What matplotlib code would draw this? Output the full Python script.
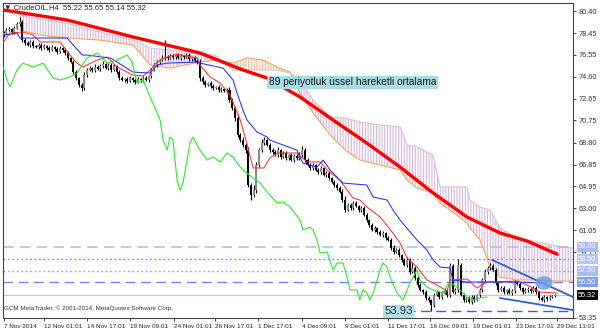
import matplotlib
matplotlib.use('Agg')
import matplotlib.pyplot as plt
from matplotlib.patches import Ellipse
import matplotlib.transforms as mtransforms

# ---------------- data ----------------
first_open = 78.30
closes = [
    78.46, 78.72, 78.81, 78.55, 78.90, 79.25, 79.43,
    77.84, 77.58, 77.40, 77.67, 77.31,
    77.23, 77.40, 77.14, 77.31,
    77.14, 76.96, 77.23, 77.05, 76.78, 77.14, 76.96, 76.70,
    76.26, 75.90, 75.02, 74.49, 73.87, 73.61,
    74.76, 75.20, 75.37, 75.20, 75.46, 75.29, 75.55,
    75.73, 75.37, 75.64, 75.20, 75.55, 75.02,
    74.49, 74.32, 74.40, 74.23, 74.49, 74.32, 74.14, 74.40, 74.32, 74.49, 74.32, 74.67,
    75.20, 75.64, 75.90, 76.08, 76.26, 76.34,
    76.26, 76.43, 76.34, 76.52, 76.26, 76.43, 76.34, 76.52, 76.17, 76.26, 75.99, 75.90,
    74.49, 74.14, 73.87, 74.05, 73.79, 73.61, 73.70, 73.43, 73.52, 73.35, 73.43,
    72.55, 71.85, 70.96, 69.47, 69.02, 68.58, 68.14,
    65.06, 64.17, 64.62,
    66.82, 68.14, 68.76, 69.02, 68.58, 68.14,
    67.97, 67.70, 68.14, 67.53, 67.88, 67.44, 67.70, 67.26, 67.61, 67.44, 67.70,
    68.14, 67.26, 66.82,
    66.56, 66.82, 66.38, 66.20, 66.56, 65.94, 66.11,
    65.67, 65.32, 65.06, 64.79, 64.44,
    63.73, 62.85, 63.29, 63.03,
    63.47, 63.20, 62.85, 63.03,
    62.41, 61.97, 61.53, 61.09, 61.27,
    60.91, 60.65, 60.82, 60.38, 60.21,
    59.50, 59.15, 59.32, 58.88, 58.44,
    58.00, 58.44, 57.38, 57.74, 56.86, 56.24,
    55.80, 55.62, 55.09, 54.91, 54.48,
    55.35, 55.62, 55.18, 55.53, 55.80, 55.35, 57.90, 55.62, 55.80, 58.00,
    55.35, 54.91, 55.09, 54.74, 55.18, 54.91, 55.35,
    55.80, 56.68, 57.38, 57.74, 57.91,
    57.56, 56.42, 55.80, 55.97,
    55.62, 55.80, 55.53, 55.71, 56.42, 56.33,
    55.97, 55.62, 55.80, 55.89, 55.71, 55.97,
    55.62, 55.09, 54.91, 55.18,
    55.00, 55.18, 55.27, 55.32,
]
wick_up = [
    0.20, 0.15, 0.20, 0.10, 0.20, 0.20, 0.45, 0.20, 0.15, 0.20,
    0.15, 0.20, 0.10, 0.15, 0.20, 0.15, 0.10, 0.20, 0.15, 0.10,
    0.20, 0.15, 0.10, 0.20, 0.15, 0.10, 0.20, 0.15, 0.10, 0.20,
    0.30, 0.15, 0.20, 0.10, 0.25, 0.15, 0.20, 0.30, 0.10, 0.20,
    0.15, 0.20, 0.10, 0.20, 0.15, 0.10, 0.20, 0.15, 0.10, 0.20,
    0.15, 0.10, 0.20, 0.15, 0.10, 0.20, 0.15, 0.20, 0.10, 0.30,
    1.50, 0.20, 0.15, 0.20, 0.10, 0.20, 0.15, 0.10, 0.20, 0.15,
    0.10, 0.20, 0.15, 0.30, 0.20, 0.15, 0.10, 0.20, 0.15, 0.10,
    0.20, 0.15, 0.10, 0.20, 0.30, 0.20, 0.15, 0.40, 0.20, 0.30,
    0.20, 0.30, 0.20, 0.40, 0.30, 0.20, 0.40, 0.30, 0.20, 0.15,
    0.20, 0.15, 0.30, 0.10, 0.20, 0.15, 0.10, 0.20, 0.15, 0.20,
    0.30, 0.40, 0.20, 0.15, 0.20, 0.15, 0.10, 0.20, 0.15, 0.10,
    0.20, 0.15, 0.10, 0.20, 0.15, 0.20, 0.30, 0.40, 0.20, 0.15,
    0.20, 0.15, 0.10, 0.20, 0.15, 0.20, 0.10, 0.20, 0.15, 0.10,
    0.20, 0.15, 0.10, 0.20, 0.15, 0.30, 0.20, 0.15, 0.10, 0.20,
    0.30, 0.20, 0.50, 0.20, 0.15, 0.20, 0.10, 0.20, 0.15, 0.10,
    0.20, 0.15, 0.10, 0.20, 0.15, 0.20, 0.30, 0.20, 0.15, 0.50,
    0.20, 0.15, 0.10, 0.20, 0.15, 0.20, 0.10, 0.20, 0.15, 0.30,
    0.20, 0.30, 0.20, 0.15, 0.10, 0.20, 0.15, 0.10, 0.20, 0.15,
    0.30, 0.20, 0.15, 0.10, 0.20, 0.15, 0.10, 0.20, 0.15, 0.10,
    0.20, 0.15, 0.10, 0.15, 0.10, 0.10,
]
wick_dn = [
    0.15, 0.20, 0.10, 0.20, 0.15, 0.10, 0.20, 0.15, 0.20, 0.10,
    0.20, 0.15, 0.10, 0.20, 0.15, 0.10, 0.20, 0.15, 0.10, 0.20,
    0.15, 0.10, 0.20, 0.15, 0.20, 0.10, 0.20, 0.15, 0.20, 0.25,
    0.15, 0.20, 0.10, 0.20, 0.15, 0.10, 0.20, 0.15, 0.10, 0.20,
    0.15, 0.10, 0.20, 0.15, 0.10, 0.20, 0.15, 0.10, 0.20, 0.15,
    0.10, 0.20, 0.15, 0.10, 0.20, 0.15, 0.10, 0.20, 0.15, 0.10,
    0.20, 0.15, 0.10, 0.20, 0.15, 0.10, 0.20, 0.15, 0.10, 0.20,
    0.15, 0.10, 0.20, 0.30, 0.15, 0.20, 0.10, 0.20, 0.15, 0.10,
    0.20, 0.15, 0.10, 0.20, 0.15, 0.20, 0.30, 0.20, 0.15, 0.20,
    0.30, 0.20, 0.45, 0.20, 0.30, 0.20, 0.15, 0.20, 0.10, 0.20,
    0.15, 0.10, 0.20, 0.15, 0.10, 0.20, 0.15, 0.10, 0.20, 0.15,
    0.20, 0.15, 0.20, 0.10, 0.20, 0.15, 0.10, 0.20, 0.15, 0.10,
    0.20, 0.15, 0.10, 0.20, 0.15, 0.10, 0.20, 0.15, 0.10, 0.20,
    0.15, 0.10, 0.20, 0.15, 0.10, 0.20, 0.15, 0.10, 0.20, 0.15,
    0.10, 0.20, 0.15, 0.10, 0.20, 0.15, 0.10, 0.20, 0.15, 0.10,
    0.20, 0.15, 0.10, 0.20, 0.15, 0.10, 0.20, 0.15, 0.20, 0.55,
    0.15, 0.10, 0.20, 0.15, 0.10, 0.20, 0.15, 0.10, 0.20, 0.15,
    0.10, 0.20, 0.15, 0.10, 0.20, 0.15, 0.10, 0.20, 0.15, 0.10,
    0.20, 0.15, 0.10, 0.20, 0.15, 0.10, 0.20, 0.15, 0.10, 0.20,
    0.15, 0.10, 0.20, 0.15, 0.10, 0.20, 0.15, 0.10, 0.20, 0.15,
    0.10, 0.20, 0.15, 0.10, 0.10, 0.10,
]

ema_x = [0, 23.6, 48.1, 73.0, 89.0, 98.0, 110.2, 122.5, 135.0, 147.4, 159.7, 172.3, 184.6, 194.6, 205.8]
ema_y = [80.49, 79.61, 78.11, 76.70, 75.20, 74.49, 72.82, 70.79, 68.76, 66.64, 64.35, 62.23, 60.82, 60.12, 58.95]

tenkan_x = [0, 2.4, 7.2, 11, 13.6, 21, 24.7, 27.3, 29.6, 31, 34.8, 38.5, 42.2, 44.4, 48.1, 51.9, 54.5, 57,
            60.8, 64.5, 68.2, 72, 73, 76.8, 80.5, 84.2, 88, 89.8, 92.8, 96.8, 99, 101.7, 109.1, 112.8,
            117.7, 120.3, 125, 127.7, 129.9, 132.5, 135.1, 140, 144.8, 147.4, 150, 153.7, 157.4, 159.7,
            164.9, 166, 172.3, 176, 179.7, 190.9, 194.6, 199.4, 205.8]
tenkan_y = [77.67, 78.46, 78.55, 78.28, 77.67, 77.67, 76.52, 75.81, 75.46, 75.64, 76.08, 76.34, 75.46, 75.20,
            74.76, 74.67, 75.20, 75.90, 76.34, 76.61, 76.43, 76.26, 75.64, 74.58, 74.05, 73.00, 70.79, 69.29,
            66.56, 66.56, 67.44, 67.88, 67.88, 67.09, 67.09, 66.38, 65.50, 64.62, 63.91, 63.73, 63.12, 62.23,
            60.82, 59.94, 58.62, 57.82, 56.68, 56.42, 55.71, 56.68, 56.77, 55.97, 56.50, 56.59, 56.24, 55.62,
            55.53]

kijun_x = [0, 5, 6.1, 23.6, 29.2, 31, 39.6, 42.2, 48.1, 54.5, 57.1, 60.8, 72, 73, 81.6, 85.3, 86.8, 89,
           90.5, 94.2, 98, 99, 109, 111.3, 116.5, 118.8, 121.4, 125, 126.2, 135, 137.4, 142.6, 144.8,
           147.4, 153.7, 157.4, 159.7, 162.3, 166, 167, 172.3, 190.9, 201.3]
kijun_y = [78.28, 78.46, 78.02, 78.02, 76.52, 76.52, 76.26, 75.90, 75.02, 74.93, 75.64, 75.81, 75.90, 75.81,
           75.37, 74.32, 73.17, 71.67, 70.79, 69.73, 69.29, 69.02, 68.14, 66.99, 66.64, 67.26, 66.38, 65.50,
           65.23, 65.06, 64.00, 63.73, 62.85, 61.97, 60.21, 59.32, 58.44, 57.82, 57.74, 56.68, 56.50, 56.50,
           56.42]

chikou_x = [0, 1.3, 2.4, 5, 7.2, 11, 14.7, 18.4, 21, 24.7, 27.3, 31, 34.8, 38.5, 42.2, 45.9, 47.8, 49.6,
            51.9, 54.5, 58.2, 59.3, 60.8, 61.9, 63, 64.5, 65.6, 66.7, 69.3, 70.4, 73, 75.7, 77.9, 80.5,
            83.1, 85.3, 86.8, 89, 92.8, 95.4, 98, 101.7, 103.9, 106.5, 110.2, 111.3, 113.9, 115.1, 116.5,
            117.7, 120.3, 122.5, 124, 126.2, 127.7, 128.8, 131.4, 132.5, 133.6, 135.1, 136.2, 137.4, 140,
            141.1, 142.6, 143.7, 146.3, 148.5, 151.1, 153.7, 154.8, 157.4, 159.7, 163.4, 164.9, 167.1,
            169.7, 172.3, 174.5, 177.1, 179.7]
chikou_y = [75.37, 74.32, 73.70, 75.20, 75.81, 75.46, 75.81, 74.49, 74.32, 74.58, 74.93, 76.26, 76.70, 75.81,
            76.08, 76.52, 75.90, 74.05, 74.32, 72.82, 70.79, 69.02, 68.14, 69.29, 69.02, 65.50, 64.62, 65.23,
            68.76, 69.29, 68.14, 67.26, 67.53, 67.09, 67.88, 67.53, 67.00, 66.38, 65.67, 65.23, 64.44, 63.47,
            63.56, 63.12, 61.97, 61.09, 61.35, 61.09, 60.21, 59.06, 59.15, 57.56, 58.18, 58.18, 56.94, 55.80,
            55.80, 54.91, 55.80, 55.53, 54.91, 55.53, 57.56, 58.18, 57.82, 56.94, 55.53, 54.91, 56.42, 57.56,
            56.68, 56.06, 55.80, 55.53, 56.24, 56.33, 55.80, 55.18, 54.91, 55.09, 55.18]

cloud_x = [6.1, 13.6, 23.6, 35.9, 48.1, 54.5, 61.9, 73.0, 78.6, 85.3, 90.5, 96.5, 101.7, 106.5, 110.2,
           115.1, 121.4, 127.0, 132.5, 140.0, 147.4, 150.0, 153.7, 159.7, 162.3, 166.0, 172.3, 173.4,
           177.1, 180.9, 184.6, 190.9, 196.8, 205.8, 211.7]
span_a = [78.72, 78.28, 78.02, 77.84, 77.40, 75.64, 75.37, 75.90, 76.08, 75.81, 76.26, 76.08, 75.46, 75.02,
          73.17, 71.41, 69.47, 68.14, 67.26, 66.82, 66.38, 65.50, 64.79, 64.35, 63.47, 62.85, 61.71, 61.27,
          60.21, 57.83, 56.94, 56.68, 56.68, 56.59, 56.59]
span_b = [80.05, 79.70, 79.34, 78.55, 77.84, 77.14, 76.96, 76.70, 76.52, 75.20, 75.20, 75.20, 75.20, 74.93,
          74.32, 72.55, 71.05, 70.96, 70.61, 70.35, 70.17, 68.58, 68.41, 67.70, 64.88, 64.88, 64.88, 63.73,
          63.12, 62.85, 61.27, 60.38, 60.12, 59.68, 59.50]

levels = [59.60, 58.50, 57.50, 56.50]
bid_price = 55.32
low_price = 53.93
trend_upper_x = [181.7, 211.7]
trend_upper_y = [58.44, 55.18]
trend_lower_x = [184.6, 211.7]
trend_lower_y = [55.09, 54.03]
marker_x, marker_y = 200.9, 56.42

x_tick_pos = [0, 15, 31, 47, 63.5, 78.7, 94.5, 111, 127, 143, 158.5, 174.5, 190.5, 205.8]
x_tick_labels = ['7 Nov 2014', '12 Nov 01:01', '14 Nov 17:01', '19 Nov 09:01', '24 Nov 01:01',
                 '26 Nov 17:01', '1 Dec 17:01', '4 Dec 09:01', '9 Dec 01:01', '11 Dec 17:01',
                 '16 Dec 09:01', '19 Dec 01:01', '23 Dec 17:01', '29 Dec 13:01']
y_ticks = [80.40, 78.45, 76.55, 74.60, 72.65, 70.75, 68.80, 66.85, 64.95, 63.00, 61.05, 59.15, 53.35]

# ---------------- figure ----------------
plt.rcParams['font.family'] = ['Liberation Sans', 'DejaVu Sans']
fig = plt.figure(figsize=(6.0, 3.33), dpi=100)
ax = fig.add_axes([3 / 600, 1 - 318 / 333, 570 / 600, 315 / 333])
ax.set_xlim(-0.2, 211.7)
ax.set_ylim(53.33, 81.11)

# cloud (hatched)
plt.rcParams['hatch.linewidth'] = 0.8
a_above = [a >= b for a, b in zip(span_a, span_b)]
b_above = [b >= a for a, b in zip(span_a, span_b)]
ax.fill_between(cloud_x, span_a, span_b, where=b_above, interpolate=True, facecolor='none',
                edgecolor='#d6b6d6', hatch='||||||', linewidth=0, zorder=1)
ax.fill_between(cloud_x, span_a, span_b, where=a_above, interpolate=True, facecolor='none',
                edgecolor='#f5bb8c', hatch='||||||', linewidth=0, zorder=1)
ax.plot(cloud_x, span_a, color='#f4a460', lw=0.8, zorder=2)
ax.plot(cloud_x, span_b, color='#d8bfd8', lw=0.8, zorder=2)

# horizontal levels
ax.axhline(levels[0], color='#a8bcf2', lw=1.1, dashes=(7, 4), zorder=2)
ax.axhline(levels[1], color='#6f8eee', lw=1.0, dashes=(1.2, 2), zorder=2)
ax.axhline(levels[2], color='#8ea6f0', lw=1.0, dashes=(1.2, 2), zorder=2)
ax.axhline(levels[3], color='#6d8ae6', lw=1.0, dashes=(7, 4), zorder=2)
ax.axhline(bid_price, color='#c8c8c8', lw=0.8, zorder=2)
ax.plot([143.5, 211.7], [low_price, low_price], color='#3c5ede', lw=1.0, dashes=(7, 4), zorder=2)

# EMA 89
ax.plot(ema_x, ema_y, color='#ff0000', lw=2.4, zorder=5, solid_capstyle='round')

# candles
n = len(closes)
idx = list(range(n))
opens = [first_open] + closes[:-1]
highs = [max(o, c) + u for o, c, u in zip(opens, closes, wick_up)]
lows = [min(o, c) - d for o, c, d in zip(opens, closes, wick_dn)]
ax.vlines(idx, lows, highs, color='black', lw=0.8, zorder=3)
bottoms = [min(o, c) for o, c in zip(opens, closes)]
heights = [max(abs(c - o), 0.05) for o, c in zip(opens, closes)]
colors = ['#8c8c8c' if c >= o else '#000000' for o, c in zip(opens, closes)]
ax.bar(idx, heights, bottom=bottoms, width=0.75, color=colors, linewidth=0, zorder=3)

# ichimoku lines
ax.plot(tenkan_x, tenkan_y, color='#ff3030', lw=0.75, zorder=4)
ax.plot(kijun_x, kijun_y, color='#2d2dff', lw=0.75, zorder=4)
ax.plot(chikou_x, chikou_y, color='#2fe62f', lw=0.8, zorder=4)

# trend lines and marker
ax.plot(trend_upper_x, trend_upper_y, color='#2f5fd6', lw=1.3, zorder=6)
ax.plot(trend_lower_x, trend_lower_y, color='#2f5fd6', lw=1.3, zorder=6)
ax.add_patch(Ellipse((marker_x, marker_y), 6.5, 1.2, facecolor='#6f9de8', edgecolor='none',
                     alpha=0.85, zorder=6))

# annotations
ax.text(98.6, 74.14, '89 periyotluk üssel hareketli ortalama', fontsize=7.3, color='#1a1a1a',
        ha='left', va='center', zorder=8,
        bbox=dict(boxstyle='square,pad=0.15', facecolor='#a9dde6', edgecolor='none'))
ax.text(141.5, low_price, '53.93', fontsize=8.2, color='#333333', ha='left', va='center', zorder=8,
        bbox=dict(boxstyle='square,pad=0.12', facecolor='#b3dfe8', edgecolor='none'))

# axes styling
for s in ax.spines.values():
    s.set_color('#444444')
    s.set_linewidth(0.8)
ax.yaxis.tick_right()
ax.set_yticks(y_ticks)
ax.set_yticklabels([f'{v:.2f}' for v in y_ticks])
ax.tick_params(axis='y', labelsize=5.3, length=2, pad=2, colors='#333333', width=0.6)
ax.set_xticks(x_tick_pos)
ax.set_xticklabels(x_tick_labels, ha='left')
ax.tick_params(axis='x', labelsize=4.6, length=2.5, pad=2, colors='#222222', width=0.6)

# right-side price labels
trans = mtransforms.blended_transform_factory(ax.transAxes, ax.transData)
lbl_bg = ['#a6bbf2', '#b3c5f5', '#a6bbf2', '#7f9de9']
for lv, bg in zip(levels, lbl_bg):
    ax.text(1.009, lv, f'{lv:.2f}', transform=trans, fontsize=5.3, color='white', ha='left',
            va='center', clip_on=False, zorder=9,
            bbox=dict(boxstyle='square,pad=0.2', facecolor=bg, edgecolor='none'))
ax.text(1.009, bid_price, f'{bid_price:.2f}', transform=trans, fontsize=5.3, color='white',
        ha='left', va='center', clip_on=False, zorder=9,
        bbox=dict(boxstyle='square,pad=0.2', facecolor='black', edgecolor='none'))

# header and footer
fig.text(4 / 600, 1 - 8 / 333, '▼ CrudeOIL,H4  55.22 55.65 55.14 55.32', fontsize=5.5,
         color='#222222', ha='left', va='center')
fig.text(4 / 600, 1 - 308 / 333, 'GCM MetaTrader, © 2001-2014, MetaQuotes Software Corp.',
         fontsize=4.5, color='#333333', ha='left', va='center')

fig.savefig('out.png', dpi=100, facecolor='white')
